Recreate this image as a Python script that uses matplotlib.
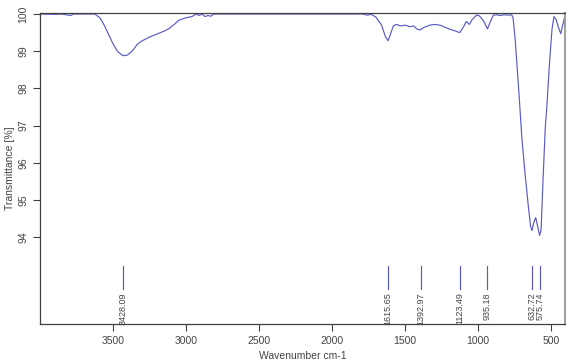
import matplotlib
matplotlib.use("Agg")
import matplotlib.pyplot as plt

plt.rcParams['font.family'] = ['Liberation Sans', 'DejaVu Sans']

# IR spectrum: wavenumber (cm-1) and transmittance (%)
wavenumber = [4000, 3900, 3860, 3820, 3790, 3770, 3625, 3590, 3560, 3530, 3500, 3470,
              3440, 3420, 3400, 3370, 3330, 3300, 3250, 3200, 3150, 3120, 3080, 3050,
              3000, 2960, 2930, 2910, 2890, 2870, 2850, 2830, 2810, 2780, 1790, 1760,
              1730, 1700, 1660, 1635, 1616, 1600, 1580, 1560, 1530, 1500, 1466, 1440,
              1420, 1397, 1370, 1330, 1300, 1260, 1230, 1200, 1160, 1125, 1100, 1080,
              1060, 1040, 1010, 990, 960, 935, 915, 895, 870, 850, 820, 790, 770, 760,
              745, 720, 700, 680, 657, 640, 630, 618, 605, 592, 578, 568, 555, 540,
              527, 510, 493, 480, 465, 450, 433, 420, 404]
transmittance = [100, 99.99, 100, 99.98, 99.96, 100, 100, 99.9, 99.7, 99.45, 99.2, 99.0,
                 98.9, 98.88, 98.9, 99.0, 99.2, 99.28, 99.38, 99.46, 99.54, 99.6, 99.72, 99.83,
                 99.9, 99.93, 100, 99.96, 100, 99.93, 99.96, 99.94, 100, 100, 100, 99.97,
                 99.99, 99.92, 99.7, 99.4, 99.28, 99.45, 99.68, 99.72, 99.68, 99.7, 99.66, 99.68,
                 99.6, 99.57, 99.64, 99.7, 99.72, 99.7, 99.65, 99.6, 99.55, 99.5, 99.65, 99.8,
                 99.72, 99.85, 99.97, 99.95, 99.8, 99.6, 99.8, 99.97, 99.98, 99.96, 99.98, 99.97, 99.98, 99.9,
                 99.3, 97.9, 96.7, 95.8, 94.9, 94.3, 94.18, 94.4, 94.53, 94.3, 94.05, 94.2, 95.5, 96.9,
                 97.6, 98.7, 99.6, 99.93, 99.85, 99.65, 99.47, 99.7, 99.97]

peaks = [3428.09, 1615.65, 1392.97, 1123.49, 935.18, 632.72, 575.74]
peak_labels = ["3428.09", "1615.65", "1392.97", "1123.49", "935.18", "632.72", "575.74"]

blue = "#5a5ac6"
grey = "#404040"
txt = "#444444"

fig = plt.figure(figsize=(5.69, 3.63), dpi=100)
ax = fig.add_axes([0.0703, 0.1074, 0.9227, 0.8576])

ax.plot(wavenumber, transmittance, color=blue, lw=0.85)

for p, lab in zip(peaks, peak_labels):
    ax.plot([p, p], [92.6, 93.22], color=blue, lw=0.85)
    ax.text(p, 92.52, lab, rotation=90, ha="center", va="top", fontsize=6.5, color=txt)

ax.set_xlim(4000, 404)
ax.set_ylim(91.67, 100.035)
ax.set_xticks([3500, 3000, 2500, 2000, 1500, 1000, 500])
ax.set_yticks([94, 95, 96, 97, 98, 99, 100])
ax.tick_params(axis="both", direction="out", length=5, width=0.8, color=grey,
               labelsize=7.5, labelcolor=txt)
for lbl in ax.get_yticklabels():
    lbl.set_rotation(90)
    lbl.set_va("center")

for s in ["left", "bottom", "top"]:
    ax.spines[s].set_color(grey)
    ax.spines[s].set_linewidth(0.9)
ax.spines["right"].set_color("#a0a0a0")
ax.spines["right"].set_linewidth(1.5)

ax.set_xlabel("Wavenumber cm-1", fontsize=7.5, color=txt, labelpad=4)
ax.set_ylabel("Transmittance [%]", fontsize=7.5, color=txt, labelpad=2)

fig.savefig("out.png", dpi=100)
plt.close()
